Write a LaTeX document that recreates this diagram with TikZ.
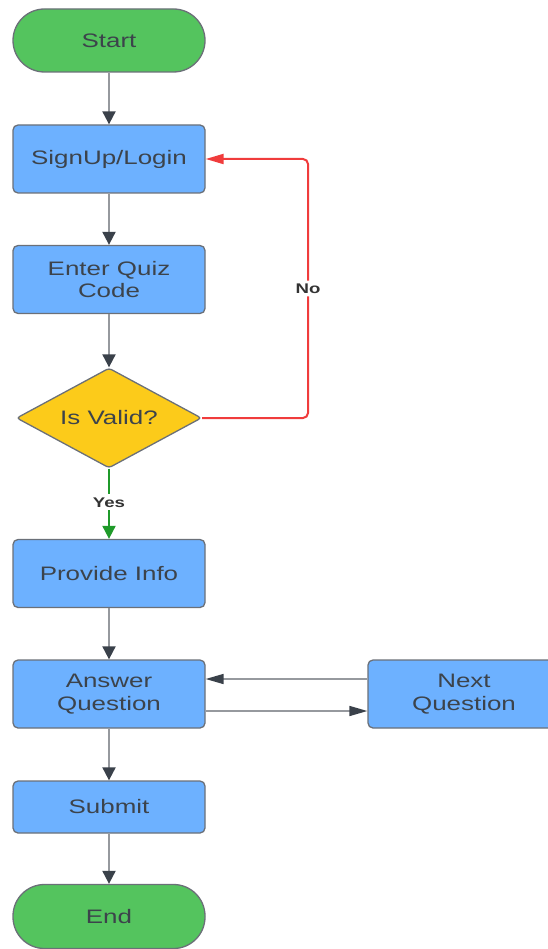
\documentclass[tikz,border=0pt]{standalone}
\usepackage{fontspec}
\setmainfont{Liberation Sans}[FakeStretch=1.33]
\usetikzlibrary{arrows.meta,shapes.geometric}

\definecolor{boxblue}{HTML}{6DB1FF}
\definecolor{termgreen}{HTML}{54C45E}
\definecolor{decyellow}{HTML}{FCCB1A}
\definecolor{edgegray}{HTML}{6B7078}
\definecolor{txtgray}{HTML}{3C434B}
\definecolor{linkgray}{HTML}{96999E}
\definecolor{tipdark}{HTML}{3A414A}
\definecolor{noredline}{HTML}{F03C3C}
\definecolor{yesgreen}{HTML}{1F9A2A}

\tikzset{
  basebox/.style={draw=edgegray, line width=1.3pt, text=txtgray,
    font=\fontsize{19.5}{22.5}\selectfont, align=center, inner sep=0pt},
  procbox/.style={basebox, rectangle, rounded corners=5pt, fill=boxblue,
    minimum width=192pt, minimum height=68pt},
  termbox/.style={basebox, rectangle, rounded corners=31.5pt, fill=termgreen,
    minimum width=192pt, minimum height=63pt},
  decbox/.style={basebox, diamond, aspect=1.85, rounded corners=3pt, fill=decyellow,
    minimum width=185pt, minimum height=100pt},
  vlink/.style={draw=linkgray, line width=2pt,
    -{Triangle[length=13pt,width=13pt,fill=tipdark,color=tipdark]}},
  hlink/.style={draw=linkgray, line width=1.6pt,
    -{Triangle[length=18pt,width=10pt,fill=tipdark,color=tipdark]}},
  branchlabel/.style={fill=white, text=black!80, inner sep=3pt,
    font=\fontsize{14}{16}\selectfont\bfseries},
}

\begin{document}
\begin{tikzpicture}[x=1pt, y=-1pt]
  \useasboundingbox (0,0) rectangle (548,949);
  \clip (0,0) rectangle (548,949);

  % main column
  \node[termbox] (start)  at (109,40.5)  {Start};
  \node[procbox] (signup) at (109,159)   {SignUp/Login};
  \node[procbox] (enter)  at (109,279.5) {Enter Quiz\\Code};
  \node[decbox]  (valid)  at (109,418)   {Is Valid?};
  \node[procbox] (info)   at (109,573.5) {Provide Info};
  \node[procbox] (answer) at (109,694)   {Answer\\Question};
  \node[procbox] (next)   at (464,694)   {Next\\Question};
  \node[procbox, minimum height=52pt] (submit) at (109,807) {Submit};
  \node[termbox, minimum height=64pt] (end) at (109,916.5) {End};

  % straight flow
  \draw[vlink] (start)  -- (signup);
  \draw[vlink] (signup) -- (enter);
  \draw[vlink] (enter)  -- (valid);
  \draw[vlink] (info)   -- (answer);
  \draw[vlink] (answer) -- (submit);
  \draw[vlink] (submit) -- (end);

  % decision branches
  \draw[draw=yesgreen, line width=2pt,
        -{Triangle[length=13pt,width=13pt,fill=yesgreen,color=yesgreen]}]
    (valid.south) -- node[branchlabel, pos=0.48] {Yes} (info.north);
  \draw[draw=noredline, line width=2pt, rounded corners=5pt,
        -{Triangle[length=18pt,width=10pt,fill=noredline,color=noredline]}]
    (valid.east) -- (308,418) -- node[branchlabel] {No} (308,159) -- (signup.east);

  % question loop
  \draw[hlink] ([yshift=15pt]next.west) -- ([yshift=15pt]answer.east);
  \draw[hlink] ([yshift=-17pt]answer.east) -- ([yshift=-17pt]next.west);
\end{tikzpicture}
\end{document}
